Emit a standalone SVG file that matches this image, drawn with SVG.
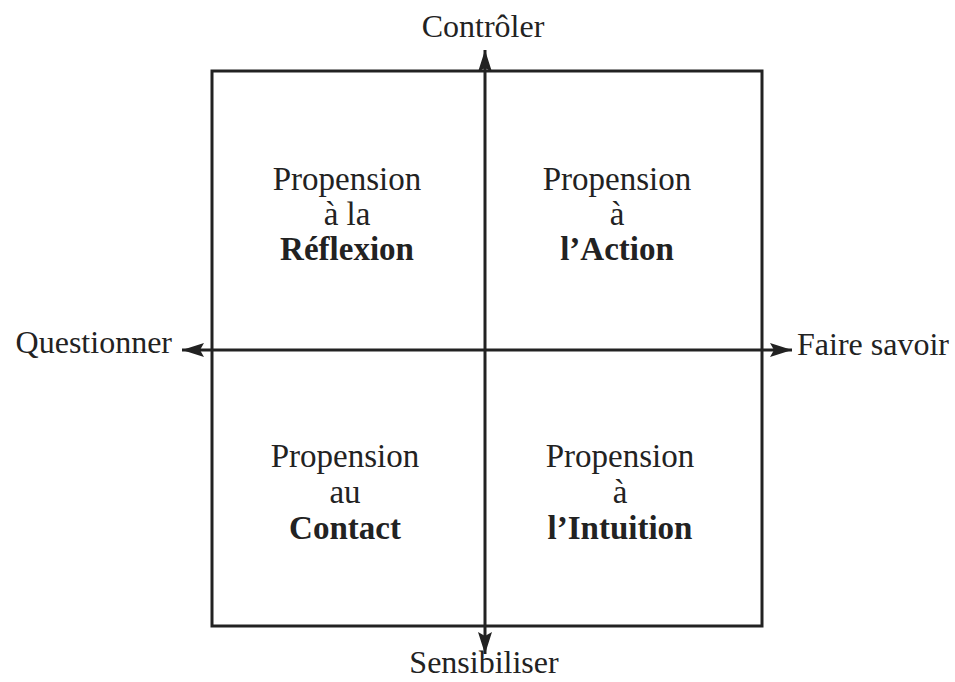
<svg xmlns="http://www.w3.org/2000/svg" width="955" height="682" viewBox="0 0 955 682">
<style>
text{font-family:"Liberation Serif","Times New Roman",serif;font-size:33px;fill:#222}
.ax{font-size:32px}
.c{text-anchor:middle}
.b{font-weight:bold}
.ln{stroke:#222;stroke-width:3;fill:none}
</style>
<defs>
<marker id="ah" viewBox="0 0 22 14" refX="22" refY="7" markerWidth="22" markerHeight="14" markerUnits="userSpaceOnUse" orient="auto">
<path d="M0,0 L22,7 L0,14 L4,7 Z" fill="#222"/>
</marker>
</defs>
<rect width="955" height="682" fill="#fff"/>
<g id="frame"><rect class="ln" x="212" y="71" width="550" height="555"/></g>
<g id="connectors">
<line class="ln" x1="485" y1="350" x2="485" y2="50" marker-end="url(#ah)"/>
<line class="ln" x1="485" y1="350" x2="485" y2="654" marker-end="url(#ah)"/>
<line class="ln" x1="485" y1="350" x2="182" y2="350" marker-end="url(#ah)"/>
<line class="ln" x1="485" y1="350" x2="792" y2="350" marker-end="url(#ah)"/>
</g>
<g id="axis-top"><text class="c ax" x="483" y="37">Contrôler</text></g>
<g id="axis-bottom"><text class="c ax" x="484" y="673">Sensibiliser</text></g>
<g id="axis-left"><text class="ax" x="172" y="353" text-anchor="end">Questionner</text></g>
<g id="axis-right"><text class="ax" x="797" y="355">Faire savoir</text></g>
<g id="q-reflexion">
<text class="c" x="347" y="190">Propension</text>
<text class="c" x="347" y="225">à la</text>
<text class="c b" x="347" y="260">Réflexion</text>
</g>
<g id="q-action">
<text class="c" x="617" y="190">Propension</text>
<text class="c" x="617" y="225">à</text>
<text class="c b" x="617" y="260">l’Action</text>
</g>
<g id="q-contact">
<text class="c" x="345" y="467">Propension</text>
<text class="c" x="345" y="503">au</text>
<text class="c b" x="345" y="539">Contact</text>
</g>
<g id="q-intuition">
<text class="c" x="620" y="467">Propension</text>
<text class="c" x="620" y="503">à</text>
<text class="c b" x="620" y="539">l’Intuition</text>
</g>
</svg>
